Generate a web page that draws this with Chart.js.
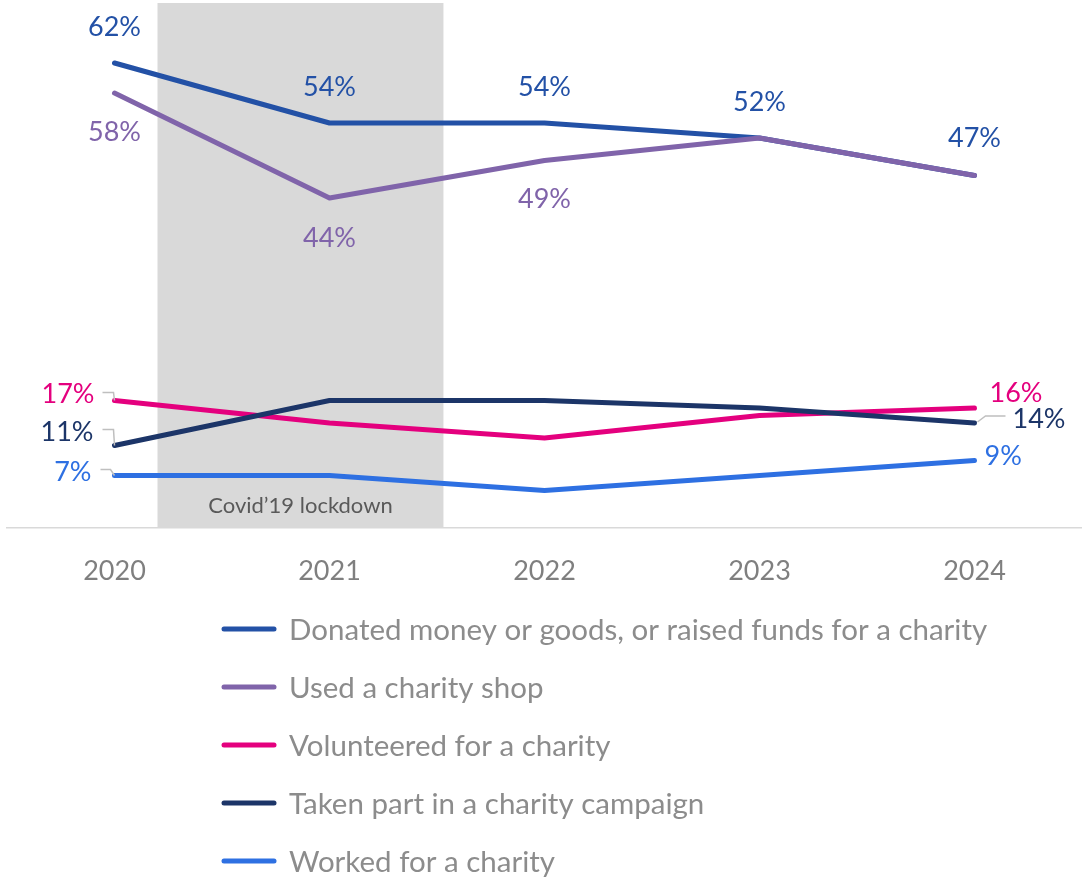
<!DOCTYPE html>
<html>
<head>
<meta charset="utf-8">
<title>Charity engagement 2020-2024</title>
<script src="https://cdn.jsdelivr.net/npm/chart.js@4"></script>
<style>
    html, body { margin: 0; padding: 0; background: #fff; }
    #wrap { width: 1082px; height: 880px; }
</style>
</head>
<body>
<div id="wrap"><canvas id="trendChart" width="1082" height="880"></canvas></div>
<script>
const years = ['2020', '2021', '2022', '2023', '2024'];

const donated     = [62, 54, 54, 52, 47];
const charityShop = [58, 44, 49, 52, 47];
const volunteered = [17, 14, 12, 15, 16];
const campaign    = [11, 17, 17, 16, 14];
const worked      = [7, 7, 5, 7, 9];

const seriesNames = [
    'Donated money or goods, or raised funds for a charity',
    'Used a charity shop',
    'Volunteered for a charity',
    'Taken part in a charity campaign',
    'Worked for a charity'
];
const lockdownText = 'Covid\u201919 lockdown';

const colours = ['#2351a6', '#8064aa', '#e4007e', '#1c3568', '#2e70e2'];
const FONT = 'Lato, "Open Sans", sans-serif';

// where each value label sits relative to its point (dx, dy), plus optional leader line
const labelSpots = [
    [ {i: 0, dx: 0, dy: -36}, {i: 1, dx: 0, dy: -36}, {i: 2, dx: 0, dy: -36},
      {i: 3, dx: 0, dy: -36}, {i: 4, dx: 0, dy: -37} ],
    [ {i: 0, dx: 0, dy: 39}, {i: 1, dx: 0, dy: 40}, {i: 2, dx: 0, dy: 39} ],
    [ {i: 0, dx: -20, dy: -6, align: 'right', leader: [[-12, -8], [-1, -8], [0, 0]]},
      {i: 4, dx: 15, dy: -15, align: 'left'} ],
    [ {i: 0, dx: -21, dy: -13, align: 'right', leader: [[-12, -16], [-1, -16], [0, 0]]},
      {i: 4, dx: 38, dy: -4, align: 'left', leader: [[3, -1], [11, -7], [31, -7]]} ],
    [ {i: 0, dx: -23, dy: -3, align: 'right', leader: [[-14, -6], [-4, -6], [0, 0]]},
      {i: 4, dx: 10, dy: -4, align: 'left'} ]
];

const lockdownShade = {
    id: 'lockdownShade',
    beforeDatasetsDraw(chart) {
        const { ctx, chartArea } = chart;
        const x = chart.scales.x;
        const step = x.getPixelForValue(1) - x.getPixelForValue(0);
        const left = x.getPixelForValue(0) + step * 0.2;
        const right = x.getPixelForValue(1) + step * 0.53;
        ctx.save();
        ctx.fillStyle = '#d9d9d9';
        ctx.fillRect(left, chartArea.top, right - left, chartArea.bottom - chartArea.top);
        ctx.fillStyle = '#595959';
        ctx.font = '22px ' + FONT;
        ctx.textAlign = 'center';
        ctx.textBaseline = 'middle';
        ctx.fillText(lockdownText, (left + right) / 2, chartArea.bottom - 22);
        ctx.restore();
    }
};

const valueLabels = {
    id: 'valueLabels',
    afterDatasetsDraw(chart) {
        const { ctx } = chart;
        ctx.save();
        ctx.font = '27px ' + FONT;
        ctx.textBaseline = 'middle';
        labelSpots.forEach((spots, d) => {
            const meta = chart.getDatasetMeta(d);
            spots.forEach(s => {
                const pt = meta.data[s.i];
                if (s.leader) {
                    ctx.strokeStyle = '#bfbfbf';
                    ctx.lineWidth = 1.5;
                    ctx.beginPath();
                    s.leader.forEach(([lx, ly], k) => {
                        if (k === 0) ctx.moveTo(pt.x + lx, pt.y + ly);
                        else ctx.lineTo(pt.x + lx, pt.y + ly);
                    });
                    ctx.stroke();
                }
                ctx.fillStyle = colours[d];
                ctx.textAlign = s.align || 'center';
                ctx.fillText(chart.data.datasets[d].data[s.i] + '%', pt.x + s.dx, pt.y + s.dy);
            });
        });
        ctx.restore();
    }
};

const lineLegend = {
    id: 'lineLegend',
    afterDraw(chart) {
        const { ctx } = chart;
        ctx.save();
        ctx.font = '29.5px ' + FONT;
        ctx.textBaseline = 'middle';
        ctx.textAlign = 'left';
        ctx.lineCap = 'round';
        chart.data.datasets.forEach((ds, k) => {
            const y = 629 + k * 58;
            ctx.strokeStyle = ds.borderColor;
            ctx.lineWidth = 5;
            ctx.beginPath();
            ctx.moveTo(224, y);
            ctx.lineTo(274, y);
            ctx.stroke();
            ctx.fillStyle = '#8c8c8c';
            ctx.fillText(ds.label, 289, y + 1);
        });
        ctx.restore();
    }
};

function makeSeries(k, values, order) {
    return {
        label: seriesNames[k],
        data: values,
        borderColor: colours[k],
        backgroundColor: colours[k],
        borderWidth: 5,
        borderCapStyle: 'round',
        borderJoinStyle: 'round',
        pointRadius: 0,
        tension: 0,
        order: order
    };
}

window.onload = () => {
    const ctx = document.getElementById('trendChart').getContext('2d');
    new Chart(ctx, {
        type: 'line',
        data: {
            labels: years,
            datasets: [
                makeSeries(0, donated, 5),
                makeSeries(1, charityShop, 4),
                makeSeries(2, volunteered, 3),
                makeSeries(3, campaign, 2),
                makeSeries(4, worked, 1)
            ]
        },
        options: {
            responsive: false,
            animation: false,
            layout: { padding: { left: 7, right: 0, top: 3, bottom: 0 } },
            plugins: {
                legend: { display: false },
                tooltip: { enabled: false }
            },
            scales: {
                x: {
                    offset: true,
                    grid: { display: false, drawTicks: false },
                    border: { display: true, color: '#d9d9d9', width: 1.5 },
                    ticks: { color: '#7f7f7f', font: { size: 27, family: FONT }, padding: 27 },
                    afterFit(scale) { scale.height = 352; }
                },
                y: { display: false, min: 0, max: 70 }
            }
        },
        plugins: [lockdownShade, valueLabels, lineLegend]
    });
};
</script>
</body>
</html>
